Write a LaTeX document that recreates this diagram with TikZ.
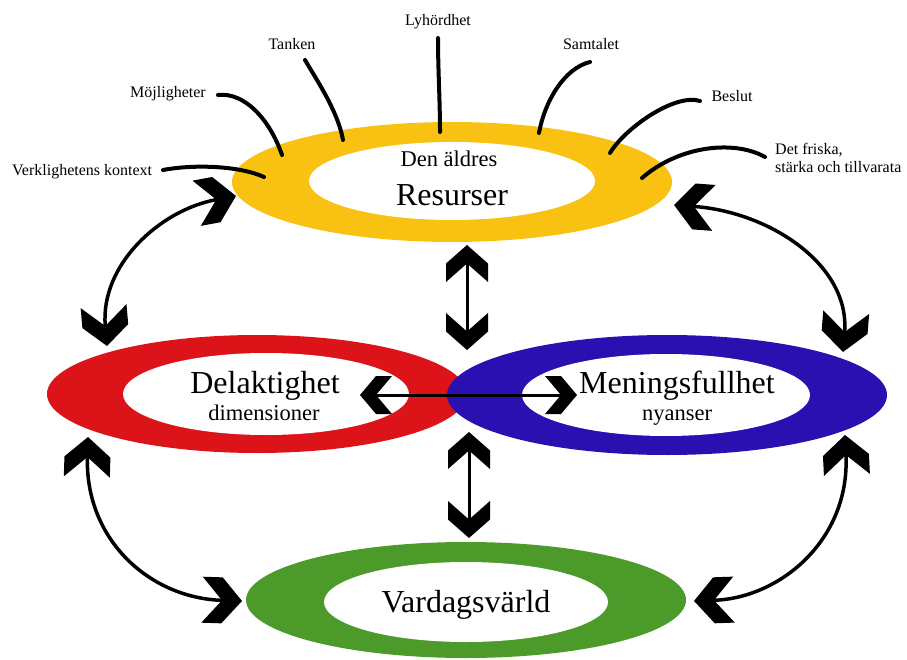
\documentclass[tikz,border=0pt]{standalone}
\usepackage{fontspec}
\setmainfont{Liberation Serif}
\usetikzlibrary{arrows.meta,shapes.geometric}
\pgfdeclarearrow{
  name=Chev,
  parameters={\the\pgfarrowlength,\the\pgfarrowwidth},
  setup code={
    \pgfarrowssettipend{0pt}
    \pgfarrowssetlineend{-0.5\pgfarrowlength}
    \pgfarrowssetbackend{-\pgfarrowlength}
    \pgfarrowssavethe\pgfarrowlength
    \pgfarrowssavethe\pgfarrowwidth
  },
  drawing code={
    \pgfpathmoveto{\pgfqpoint{0pt}{0pt}}
    \pgfpathlineto{\pgfqpoint{-0.5\pgfarrowlength}{0.5\pgfarrowwidth}}
    \pgfpathlineto{\pgfqpoint{-\pgfarrowlength}{0.5\pgfarrowwidth}}
    \pgfpathlineto{\pgfqpoint{-0.5\pgfarrowlength}{0pt}}
    \pgfpathlineto{\pgfqpoint{-\pgfarrowlength}{-0.5\pgfarrowwidth}}
    \pgfpathlineto{\pgfqpoint{-0.5\pgfarrowlength}{-0.5\pgfarrowwidth}}
    \pgfpathclose
    \pgfusepathqfill
  },
  defaults={length=37pt,width=42pt}
}
\definecolor{cYellow}{RGB}{249,194,19}
\definecolor{cRed}{RGB}{220,20,26}
\definecolor{cBlue}{RGB}{42,16,176}
\definecolor{cGreen}{RGB}{76,154,42}
\begin{document}
\begin{tikzpicture}[x=1pt,y=-1pt,
  ring/.style={ellipse, inner sep=0pt, outer sep=0pt, draw=none},
  hole/.style={ring, fill=white},
  small/.style={font=\fontsize{16}{18}\selectfont, inner sep=0pt, anchor=base},
  mid/.style={font=\fontsize{22.5}{25}\selectfont, inner sep=0pt, anchor=base},
  big/.style={font=\fontsize{32}{36}\selectfont, inner sep=0pt, anchor=base},
  lab/.style={line width=4pt, line cap=round},
  curvarrow/.style={line width=3.5pt, >={Chev[length=40pt,width=46pt]}, <->},
  vertarrow/.style={line width=3pt, >={Chev[length=37pt,width=42pt]}, <->},
  horarrow/.style={line width=3pt, >={Chev[length=32pt,width=38pt]}, <->}
]
\useasboundingbox (0,0) rectangle (907,660);
% rings
\node[ring, fill=cRed, minimum width=420pt, minimum height=118pt] (redO) at (257,394) {};
\node[hole, minimum width=286pt, minimum height=82pt] (redI) at (266,394) {};
\node[ring, fill=cBlue, minimum width=440pt, minimum height=120pt] (blueO) at (667,395) {};
\node[hole, minimum width=288pt, minimum height=82pt] (blueI) at (666,395) {};
\node[ring, fill=cYellow, minimum width=440pt, minimum height=120pt] (yelO) at (452,182) {};
\node[hole, minimum width=286pt, minimum height=78pt] (yelI) at (452,181) {};
\node[ring, fill=cGreen, minimum width=440pt, minimum height=116pt] (grnO) at (466,600) {};
\node[hole, minimum width=284pt, minimum height=80pt] (grnI) at (466,602) {};
% ring texts
\node[mid] (denaldres) at (449,167) {Den äldres};
\node[big] (resurser) at (452,206) {Resurser};
\node[big] (delakt) at (265,393) {Delaktighet};
\node[mid] (dimens) at (264,420) {dimensioner};
\node[big] (mening) at (677,393) {Meningsfullhet};
\node[mid] (nyans) at (677,420) {nyanser};
\node[big] (vardag) at (466,612) {Vardagsvärld};
% labels
\node[small] (lyh) at (438,26) {Lyhördhet};
\node[small] (tank) at (292,50) {Tanken};
\node[small] (samt) at (591,50) {Samtalet};
\node[small] (moj) at (168,98) {Möjligheter};
\node[small] (besl) at (732,102) {Beslut};
\node[small, anchor=base west] (verk) at (12,176) {Verklighetens kontext};
\node[small, anchor=base west] (frisk1) at (775,155) {Det friska,};
\node[small, anchor=base west] (frisk2) at (775,173) {stärka och tillvarata};
% label line ends
\coordinate (lyhA) at (438,38);   \coordinate (lyhB) at (440,132);
\coordinate (tankA) at (305,60);  \coordinate (tankB) at (343,140);
\coordinate (samtA) at (590,62);  \coordinate (samtB) at (539,133);
\coordinate (mojA) at (218,95);   \coordinate (mojB) at (282,155);
\coordinate (beslA) at (700,101); \coordinate (beslB) at (610,153);
\coordinate (verkA) at (163,170); \coordinate (verkB) at (264,177);
\coordinate (friskA) at (765,157);\coordinate (friskB) at (642,178);
\draw[lab] (lyhA) .. controls (438,70) and (440,100) .. (lyhB);
\draw[lab] (tankA) .. controls (318,82) and (338,112) .. (tankB);
\draw[lab] (samtA) .. controls (565,68) and (545,100) .. (samtB);
\draw[lab] (mojA) .. controls (245,92) and (270,120) .. (mojB);
\draw[lab] (beslA) .. controls (675,93) and (625,128) .. (beslB);
\draw[lab] (verkA) .. controls (195,164) and (240,166) .. (verkB);
\draw[lab] (friskA) .. controls (735,140) and (680,145) .. (friskB);
% arrow end points
\coordinate (yL) at (236,196);
\coordinate (yR) at (674,205);
\coordinate (rTop) at (107,346);
\coordinate (rBot) at (88,437);
\coordinate (bTop) at (843,352);
\coordinate (bBot) at (845,435);
\coordinate (gL) at (242,601);
\coordinate (gR) at (694,601);
\coordinate (vTopA) at (467,245);
\coordinate (vTopB) at (467,350);
\coordinate (vBotA) at (469,432);
\coordinate (vBotB) at (469,538);
\coordinate (hL) at (360,395);
\coordinate (hR) at (577,395);
% arrows
\draw[curvarrow] (rTop) .. controls (100,265) and (160,210) .. (yL);
\draw[curvarrow] (bTop) .. controls (850,265) and (770,212) .. (yR);
\draw[curvarrow] (rBot) .. controls (85,540) and (150,598) .. (gL);
\draw[curvarrow] (bBot) .. controls (850,540) and (780,598) .. (gR);
\draw[vertarrow] (vTopA) -- (vTopB);
\draw[vertarrow] (vBotA) -- (vBotB);
\draw[horarrow] (hL) -- (hR);
\end{tikzpicture}
\end{document}
